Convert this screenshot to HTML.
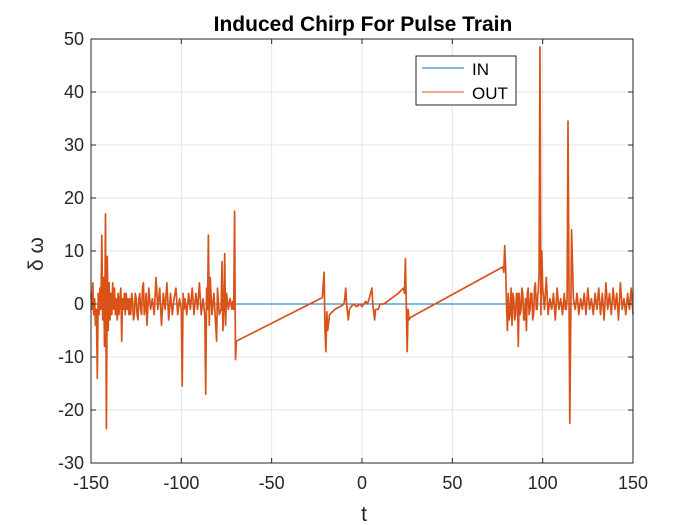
<!DOCTYPE html>
<html><head><meta charset="utf-8"><style>
html,body{margin:0;padding:0;background:#fff;}
svg{display:block;font-family:"Liberation Sans",sans-serif;}
</style></head><body>
<svg id="chart" width="700" height="525" viewBox="0 0 700 525">
<rect x="0" y="0" width="700" height="525" fill="#fff"/>
<rect x="91" y="39" width="542" height="424" fill="#fff"/>
<g id="grid"></g>
<g id="series"></g>
<g id="axes"></g>
<text x="363" y="31" text-anchor="middle" font-size="21" font-weight="bold" fill="#000">Induced Chirp For Pulse Train</text>
<text x="364" y="521" text-anchor="middle" font-size="21" fill="#262626">t</text>
<text x="43" y="254" text-anchor="middle" font-size="21" fill="#262626" transform="rotate(-90 43 254)">δ ω</text>
<g>
<rect x="416" y="56" width="100" height="49" fill="#fff" stroke="#262626" stroke-width="1"/>
<line x1="422" y1="68" x2="464" y2="68" stroke="#0072BD" stroke-width="1"/>
<text x="472" y="75" font-size="17" fill="#000">IN</text>
<line x1="422" y1="92" x2="464" y2="92" stroke="#D95319" stroke-width="1"/>
<text x="472" y="99" font-size="17" fill="#000">OUT</text>
</g>
</svg>
<script>
const xTicks = [-150,-100,-50,0,50,100,150];
const yTicks = [-30,-20,-10,0,10,20,30,40,50];
const inT = [-150,150];
const inV = [0,0];
const outT = [-150,-149.5,-149,-148.5,-148,-147.5,-147,-146.5,-146,-145.5,-145,-144.5,-144,-143.5,-143,-142.5,-142,-141.5,-141,-140.5,-140,-139.5,-139,-138.5,-138,-137.5,-137,-136.5,-136,-135.5,-135,-134.5,-134,-133.5,-133,-132.5,-132,-131.5,-131,-130.5,-130,-129.5,-129,-128.5,-128,-127.5,-127,-126.5,-126,-125.5,-125,-124.5,-124,-123.5,-123,-122.5,-122,-121.5,-121,-120.5,-120,-119.5,-119,-118,-117,-116,-115,-114,-113,-112,-111,-110,-109,-108,-107,-106,-105,-104,-103,-102,-101,-100,-99.5,-99,-98.5,-98,-97,-96,-95,-94,-93,-92,-91,-90,-89,-88,-87,-86.5,-86,-85.5,-85,-84.5,-84,-83,-82,-81,-80.5,-80,-79,-78,-77.5,-77,-76.5,-76,-75.5,-75,-74,-73,-72,-71.5,-71,-70.5,-70,-69.5,
-22,-21,-20.5,-20,-19.5,-19,-18,-15,-12,-10,-9.5,-9,-8.5,-7.5,-7,-5,-3,-1,0,2,3,4,5.5,6,7,7.5,9,10,12,14,20,23,23.5,24,24.5,25,25.5,26,27,
78,78.5,79,79.5,80,80.5,81,81.5,82,82.5,83,83.5,84,84.5,85,85.5,86,86.5,87,87.5,88,88.5,89,89.5,90,90.5,91,91.5,92,92.5,93,93.5,94,94.5,95,95.5,96,96.5,97,97.3,97.6,98,98.5,99,99.5,100,101,102,103,104,105,106,107,108,109,110,111,112,112.5,112.8,113,113.5,114,115,116,117,118,119,120,121,122,123,124,125,126,127,128,129,130,131,132,133,134,135,136,137,138,139,140,141,142,143,144,145,146,147,148,149,150];
const outV = [2,-1,4,-2,1,-4,-1,-14,2,-2,3,-1,13,-3,5,-8,17,-23.5,9,-5,4,-3,2,-2,4,-1,3,-2,1,-3,2,-2,1,3,-7,1,-1,2,-2,2,-1,1,-2,1,-2,2,0.5,-3,-2,2,1,-2,-3,1,2,-1,-2,3,4,-2,-1,2,-4,3,-1,1,-2,5,-1,3,-4,2,-1,4,-3,2,-2,1,3,-2,1,-1,-15.5,2,-1,1,-2,2,-1,3,-2,2,-1,4,-2,1,-2,-17,3,-1,13,-4,5,-2,2,-4,-7,3,-2,-1,8,-5,-1,9.5,-4,2,-1,1,-1,0.5,-1,17.5,-10.5,-7,
1.2,6,-5,-9,-1.5,-5,-2,-1,-0.5,0,1,3,0,-3,-1,0,-0.5,0,-0.5,0.5,0,1,3,0,-3,-1,-1,0,0,0.5,2,3,2,8.5,0,-9,-1,-3,-2.5,
7,6,11,7,0,-5,2,-3,-2,3,-4,2,1,-3,-2,2,2,-8,2,-2,-1,3,2,-3,-3,1,-5,2,3,-2,-1,2,2,-3,-2,3,4,-1,-1,2,2,6,48.5,-2,10,3,-1,5,-2,1,-1,2,-3,3,-1,1,-2,2,-1,0.5,-1,1,34.5,-22.5,14,1,-1,2,-2,1,-1,2,-2,3,-1,1,-2,2,-1,3,-2,2,-3,4,-1,2,-2,3,-1,2,-3,4,-1,1,-2,2,-1,3,-2,1,-3,2,-5.5];

const X0=91,X1=633,Y0=463,Y1=39;
const xs = t => X0 + (t - (-150)) / 300 * (X1 - X0);
const ys = v => Y0 - (v - (-30)) / 80 * (Y0 - Y1);
const NS="http://www.w3.org/2000/svg";
const grid=document.getElementById('grid'), axes=document.getElementById('axes'), series=document.getElementById('series');
function mk(tag, attrs){const e=document.createElementNS(NS,tag);for(const k in attrs)e.setAttribute(k,attrs[k]);return e;}

xTicks.forEach(t=>{
  const x=xs(t);
  const g=mk('line',{x1:x,y1:Y1,x2:x,y2:Y0,stroke:'#e3e3e3','stroke-width':1});
  
  
  grid.appendChild(g);
  const tk=mk('path',{d:`M${x},${Y0}v-5M${x},${Y1}v5`,stroke:'#262626','stroke-width':1});
  
  
  axes.appendChild(tk);
  const lb=mk('text',{x:x,y:489,'text-anchor':'middle','font-size':18,fill:'#262626'});
  lb.textContent=t;
  
  
  axes.appendChild(lb);
});
yTicks.forEach(v=>{
  const y=ys(v);
  const g=mk('line',{x1:X0,y1:y,x2:X1,y2:y,stroke:'#e3e3e3','stroke-width':1});
  
  
  grid.appendChild(g);
  const tk=mk('path',{d:`M${X0},${y}h5M${X1},${y}h-5`,stroke:'#262626','stroke-width':1});
  
  
  axes.appendChild(tk);
  const lb=mk('text',{x:84,y:y+6,'text-anchor':'end','font-size':18,fill:'#262626'});
  lb.textContent=v;
  
  
  axes.appendChild(lb);
});
const box=mk('rect',{x:X0,y:Y1,width:X1-X0,height:Y0-Y1,fill:'none',stroke:'#262626','stroke-width':1});


axes.appendChild(box);

function pathOf(T,V){return T.map((t,i)=>(i?'L':'M')+xs(t).toFixed(1)+','+ys(V[i]).toFixed(1)).join('');}
const pin=mk('path',{d:pathOf(inT,inV),fill:'none',stroke:'#0072BD','stroke-width':1});


series.appendChild(pin);
const pout=mk('path',{d:pathOf(outT,outV),fill:'none',stroke:'#D95319','stroke-width':1.7,'stroke-linejoin':'round'});


series.appendChild(pout);
</script>
</body></html>
